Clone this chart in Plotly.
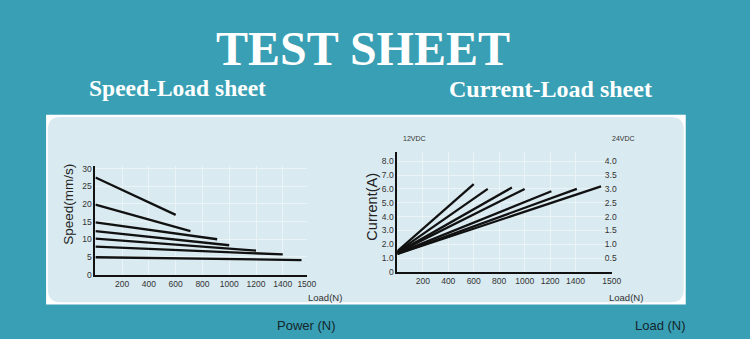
import plotly.graph_objects as go

W, H = 750, 339

def px(x):
    return x / W

def py(y):
    return 1 - y / H

# ---------------- data ----------------
# Speed-Load sheet: each line runs from load 0 to its end load
SPEED_LOAD_END = [600, 710, 910, 1000, 1200, 1400, 1540]
SPEED_START = [27.5, 19.8, 14.8, 12.3, 10.2, 7.9, 4.9]
SPEED_END = [16.9, 12.3, 10.0, 8.3, 6.8, 5.7, 4.1]

# Current-Load sheet
CURRENT_LOAD_END = [600, 710, 900, 1000, 1210, 1410, 1600]
CURRENT_START = [1.5, 1.45, 1.4, 1.4, 1.35, 1.3, 1.3]
CURRENT_END = [6.35, 6.0, 6.1, 6.0, 5.83, 6.0, 6.18]

X_TICK_TEXT = ["200", "400", "600", "800", "1000", "1200", "1400", "1500"]
X_TICK_VALS = [200, 400, 600, 800, 1000, 1200, 1400]
SPEED_TICKS = [0, 5, 10, 15, 20, 25, 30]
CURRENT_TICKS = [0, 1, 2, 3, 4, 5, 6, 7, 8]
CURRENT_TICK_TEXT = ["0", "1.0", "2.0", "3.0", "4.0", "5.0", "6.0", "7.0", "8.0"]
CURRENT24_TICKS = [0.5, 1.0, 1.5, 2.0, 2.5, 3.0, 3.5, 4.0]
CURRENT24_TICK_TEXT = ["0.5", "1.0", "1.5", "2.0", "2.5", "3.0", "3.5", "4.0"]

LEFT_X_MAX = 1580
RIGHT_X_MAX = 1684

# ---------------- figure ----------------
BG = "#389fb4"
PANEL = "#d9eaf0"
GRID = "#eaf4f7"
LINE = "#111111"
TICK_FONT = dict(family="Liberation Sans, Arial", size=8.5, color="#333333")

fig = go.Figure()

for xe, y0, y1 in zip(SPEED_LOAD_END, SPEED_START, SPEED_END):
    fig.add_trace(go.Scatter(x=[0, xe], y=[y0, y1], mode="lines",
                             line=dict(color=LINE, width=2.3), xaxis="x", yaxis="y",
                             showlegend=False, hoverinfo="skip"))

for xe, y0, y1 in zip(CURRENT_LOAD_END, CURRENT_START, CURRENT_END):
    fig.add_trace(go.Scatter(x=[0, xe], y=[y0, y1], mode="lines",
                             line=dict(color=LINE, width=2.3), xaxis="x2", yaxis="y3",
                             showlegend=False, hoverinfo="skip"))

axis_common = dict(showline=True, linecolor=LINE, linewidth=2, showgrid=True,
                   gridcolor=GRID, gridwidth=1, zeroline=False, ticks="",
                   tickfont=TICK_FONT, fixedrange=True)

fig.update_layout(
    width=W, height=H,
    margin=dict(l=0, r=0, t=0, b=0),
    paper_bgcolor=BG,
    plot_bgcolor="rgba(0,0,0,0)",
    showlegend=False,
    xaxis=dict(domain=[px(96.7), px(311)], range=[0, LEFT_X_MAX], anchor="y",
               tickvals=X_TICK_VALS + [LEFT_X_MAX], ticktext=X_TICK_TEXT, **axis_common),
    yaxis=dict(domain=[py(278.3), py(167.3)], range=[0, 30.8], anchor="x",
               tickvals=SPEED_TICKS, ticktext=[str(v) for v in SPEED_TICKS], **axis_common),
    xaxis2=dict(domain=[px(402.7), px(620)], range=[0, RIGHT_X_MAX], anchor="y3",
                tickvals=X_TICK_VALS + [RIGHT_X_MAX], ticktext=X_TICK_TEXT, **axis_common),
    yaxis3=dict(domain=[py(275.7), py(152.7)], range=[0, 8.7], anchor="x2",
                tickvals=CURRENT_TICKS, ticktext=CURRENT_TICK_TEXT, **axis_common),
    yaxis4=dict(overlaying="y3", side="right", anchor="free", position=px(612),
                range=[0, 4.35], tickvals=CURRENT24_TICKS, ticktext=CURRENT24_TICK_TEXT,
                showline=False, showgrid=False, zeroline=False, ticks="",
                tickfont=TICK_FONT, fixedrange=True),
)

# dummy trace so yaxis4 is rendered
fig.add_trace(go.Scatter(x=[None], y=[None], xaxis="x2", yaxis="y4",
                         showlegend=False, hoverinfo="skip"))

# panel: white frame + rounded light panel
fig.add_shape(type="rect", xref="paper", yref="paper",
              x0=px(46.7), x1=px(695), y0=py(309), y1=py(115),
              fillcolor="#ffffff", line=dict(width=0), layer="below")

x0, x1, y0, y1, r = 48.5, 693, 117.5, 306.5, 13
def P(x, y):
    return f"{px(x):.5f},{py(y):.5f}"
path = (f"M {P(x0 + r, y0)} L {P(x1 - r, y0)} Q {P(x1, y0)} {P(x1, y0 + r)} "
        f"L {P(x1, y1 - r)} Q {P(x1, y1)} {P(x1 - r, y1)} "
        f"L {P(x0 + r, y1)} Q {P(x0, y1)} {P(x0, y1 - r)} "
        f"L {P(x0, y0 + r)} Q {P(x0, y0)} {P(x0 + r, y0)} Z")
fig.add_shape(type="path", xref="paper", yref="paper", path=path,
              fillcolor=PANEL, line=dict(width=0), layer="below")

def ann(text, x, y, size, color, family, angle=0, bold=False):
    if bold:
        text = f"<b>{text}</b>"
    fig.add_annotation(text=text, x=px(x), y=py(y), xref="paper", yref="paper",
                       showarrow=False, xanchor="center", yanchor="middle",
                       textangle=angle, font=dict(size=size, color=color, family=family))

SERIF = "Liberation Serif, Times New Roman, serif"
SANS = "Liberation Sans, Arial, sans-serif"

ann("TEST SHEET", 368, 47, 48, "#ffffff", SERIF, bold=True)
ann("Speed-Load sheet", 180, 88, 23.5, "#ffffff", SERIF, bold=True)
ann("Current-Load sheet", 558, 89, 24, "#ffffff", SERIF, bold=True)
ann("Speed(mm/s)", 70, 207, 13.5, "#222222", SANS, angle=-90)
ann("Current(A)", 377, 209, 14.5, "#222222", SANS, angle=-90)
ann("12VDC", 420, 139, 7, "#333333", SANS)
ann("24VDC", 632, 139, 7, "#333333", SANS)
ann("Load(N)", 329, 302, 9.5, "#333333", SANS)
ann("Load(N)", 634, 302, 9.5, "#333333", SANS)
ann("Power (N)", 311, 330, 13, "#15262c", SANS)
ann("Load (N)", 669.5, 330, 13, "#15262c", SANS)

fig.write_html("out.html")
